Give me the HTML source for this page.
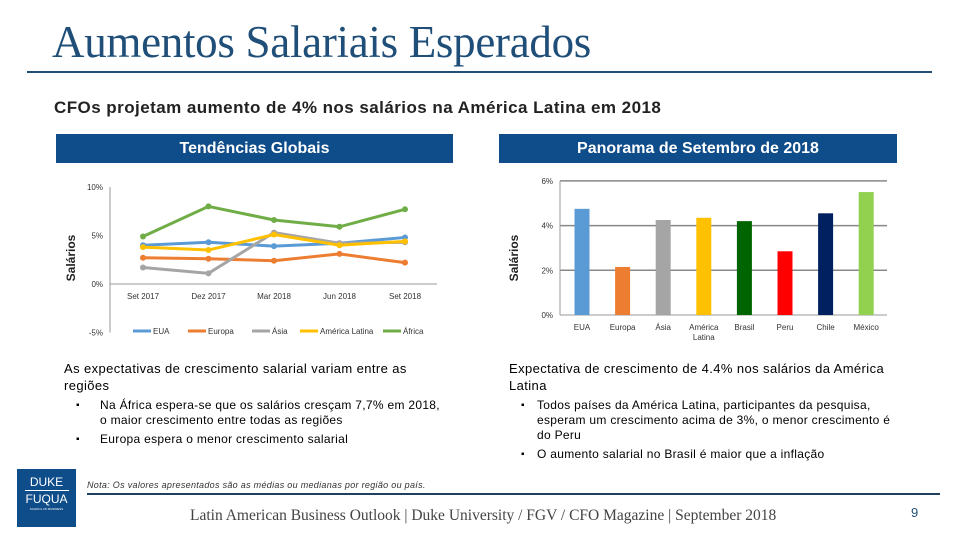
<!DOCTYPE html>
<html><head><meta charset="utf-8">
<style>
body{margin:0;width:960px;height:540px;background:#fff;position:relative;overflow:hidden;font-family:"Liberation Sans",sans-serif}
.abs{position:absolute}
.hdr{position:absolute;background:#0f4c8a;color:#fff;font-weight:bold;font-size:16px;text-align:center;line-height:29px;height:29px}
ul{margin:0;padding-left:0;list-style:none}
li{position:relative;padding-left:36px;font-size:12px;line-height:15px;letter-spacing:0.3px;margin-bottom:4px}
li:before{content:"▪";position:absolute;left:12px;font-size:10px}
.lead{font-size:13px;line-height:17px;letter-spacing:0.4px;margin-bottom:4px}
</style></head><body>
<div class="abs" style="left:52px;top:16px;font-family:'Liberation Serif',serif;font-size:45px;color:#1f4e79;letter-spacing:-0.3px;white-space:nowrap">Aumentos Salariais Esperados</div>
<div class="abs" style="left:27px;top:71px;width:905px;height:2px;background:#1f4e79"></div>
<div class="abs" style="left:54px;top:98px;font-size:17px;font-weight:bold;color:#222;letter-spacing:0.45px;white-space:nowrap">CFOs projetam aumento de 4% nos salários na América Latina em 2018</div>
<div class="hdr" style="left:56px;top:134px;width:397px">Tendências Globais</div>
<div class="hdr" style="left:499px;top:134px;width:398px">Panorama de Setembro de 2018</div>

<svg class="abs" style="left:0;top:0" width="960" height="540" id="charts"></svg>

<div class="abs" style="left:64px;top:360px;width:385px">
<div class="lead">As expectativas de crescimento salarial variam entre as regiões</div>
<ul><li>Na África espera-se que os salários cresçam 7,7% em 2018, o maior crescimento entre todas as regiões</li><li>Europa espera o menor crescimento salarial</li></ul></div>
<div class="abs" style="left:509px;top:360px;width:385px">
<div class="lead">Expectativa de crescimento de 4.4% nos salários da América Latina</div>
<ul><li style="padding-left:28px">Todos países da América Latina, participantes da pesquisa, esperam um crescimento acima de 3%, o menor crescimento é do Peru</li><li style="padding-left:28px">O aumento salarial no Brasil é maior que a inflação</li></ul></div>

<div class="abs" style="left:17px;top:469px;width:59px;height:58px;background:#0f4c8a;color:#fff;font-size:12px;text-align:center;line-height:14px;padding-top:6px;box-sizing:border-box">DUKE<div style="width:44px;height:1px;background:#fff;margin:1px auto"></div>FUQUA<div style="font-size:3px;line-height:6px">SCHOOL OF BUSINESS</div></div>
<div class="abs" style="left:87px;top:480px;font-size:9px;font-style:italic;color:#333;letter-spacing:0.3px">Nota: Os valores apresentados são as médias ou medianas por região ou país.</div>
<div class="abs" style="left:87px;top:493px;width:853px;height:2px;background:#1f3f5f"></div>
<div class="abs" style="left:190px;top:507px;font-family:'Liberation Serif',serif;font-size:15.5px;color:#444;white-space:nowrap">Latin American Business Outlook | Duke University / FGV / CFO Magazine | September 2018</div>
<div class="abs" style="left:911px;top:505px;font-size:13px;color:#1f4e79">9</div>

<script>
const lineCats=["Set 2017","Dez 2017","Mar 2018","Jun 2018","Set 2018"];
const lineTicks=[10,5,0,-5];
const seriesNames=["EUA","Europa","Ásia","América Latina","África"];
const seriesColors=["#5b9bd5","#ed7d31","#a5a5a5","#ffc000","#70ad47"];
const eua=[4.0,4.3,3.9,4.2,4.8];
const europa=[2.7,2.6,2.4,3.1,2.2];
const asia=[1.7,1.1,5.3,4.2,4.3];
const amlat=[3.8,3.5,5.1,4.0,4.4];
const africa=[4.9,8.0,6.6,5.9,7.7];
const barCats=["EUA","Europa","Ásia","América|Latina","Brasil","Peru","Chile","México"];
const barVals=[4.75,2.15,4.25,4.35,4.2,2.85,4.55,5.5];
const barColors=["#5b9bd5","#ed7d31","#a5a5a5","#ffc000","#006400","#ff0000","#002060","#92d050"];
const barTicks=[0,2,4,6];

const svg=document.getElementById('charts');
const NS="http://www.w3.org/2000/svg";
function mk(t,a,txt){const e=document.createElementNS(NS,t);for(const k in a)e.setAttribute(k,a[k]);if(txt!==undefined)e.textContent=txt;svg.appendChild(e);return e;}

const ly=v=>284-v*9.7;
const lx=i=>143+i*65.5;
let e=mk('line',{x1:110,y1:ly(10),x2:110,y2:ly(-5),stroke:'#999'});

e=mk('line',{x1:110,y1:ly(0),x2:437,y2:ly(0),stroke:'#999'});

lineTicks.forEach(t=>{const el=mk('text',{x:103,y:ly(t)+3,'font-size':8,'text-anchor':'end',fill:'#333'},t+'%');
});
lineCats.forEach((c,i)=>{const el=mk('text',{x:lx(i),y:299,'font-size':8,'text-anchor':'middle',fill:'#333'},c);
});
e=mk('text',{x:75,y:258,'font-size':12,'font-weight':'bold','text-anchor':'middle',transform:'rotate(-90 75 258)',fill:'#222'},'Salários');

[eua,europa,asia,amlat,africa].forEach((s,k)=>{
 const p=mk('polyline',{points:s.map((v,i)=>lx(i)+','+ly(v)).join(' '),fill:'none',stroke:seriesColors[k],'stroke-width':3});
 
 s.forEach((v,i)=>{const m=mk('circle',{cx:lx(i),cy:ly(v),r:3,fill:seriesColors[k]});
 });
});
const lgx=[133,188,252,300,383];
seriesNames.forEach((n,k)=>{
 const l=mk('line',{x1:lgx[k],y1:331,x2:lgx[k]+18,y2:331,stroke:seriesColors[k],'stroke-width':3});
 
 const t=mk('text',{x:lgx[k]+20,y:334,'font-size':8,fill:'#333'},n);
 
});

const by=v=>315-v*22.35;
const bx=i=>582+i*40.6;
barTicks.forEach(t=>{const g=mk('line',{x1:560,y1:by(t),x2:887,y2:by(t),stroke:t==0?'#999':'#888','stroke-width':t==0?1:1.5});

const el=mk('text',{x:553,y:by(t)+3,'font-size':8,'text-anchor':'end',fill:'#333'},t+'%');
});
e=mk('line',{x1:560,y1:by(0),x2:560,y2:by(6),stroke:'#999'});

e=mk('text',{x:518,y:258,'font-size':12,'font-weight':'bold','text-anchor':'middle',transform:'rotate(-90 518 258)',fill:'#222'},'Salários');

barVals.forEach((v,i)=>{
 const r=mk('rect',{x:bx(i)-7.5,y:by(v),width:15,height:by(0)-by(v),fill:barColors[i]});
 
 barCats[i].split('|').forEach((ln,j)=>{const t=mk('text',{x:bx(i),y:330+j*10,'font-size':8,'text-anchor':'middle',fill:'#333'},ln);
 });
});
</script>
</body></html>
